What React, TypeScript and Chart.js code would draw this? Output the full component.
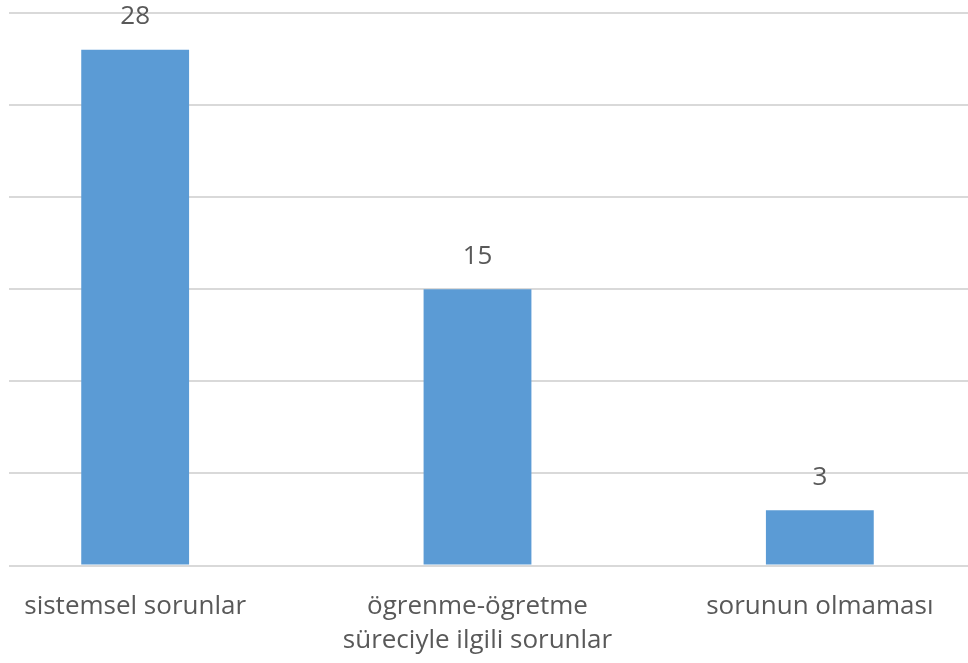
import React, { useEffect, useRef } from "react";
import { Chart, registerables } from "chart.js";

Chart.register(...registerables);

const categories: (string | string[])[] = [
  "sistemsel sorunlar",
  ["ögrenme-ögretme", "süreciyle ilgili sorunlar"],
  "sorunun olmaması",
];
const values: number[] = [28, 15, 3];
const yMin = 0;
const yMax = 30;
const yStep = 5;

const TEXT = "#595959";
const FONT = "'Open Sans', sans-serif";

const valueLabels = {
  id: "valueLabels",
  afterDatasetsDraw(chart: any) {
    const ctx = chart.ctx;
    const meta = chart.getDatasetMeta(0);
    ctx.save();
    ctx.fillStyle = TEXT;
    ctx.font = `26px ${FONT}`;
    ctx.textAlign = "center";
    ctx.textBaseline = "middle";
    meta.data.forEach((bar: any, i: number) => {
      ctx.fillText(String(values[i]), bar.x, bar.y - 33);
    });
    ctx.restore();
  },
};

export default function App() {
  const ref = useRef<HTMLCanvasElement>(null);
  useEffect(() => {
    if (!ref.current) return;
    const chart = new Chart(ref.current, {
      type: "bar",
      data: {
        labels: categories,
        datasets: [
          {
            data: values,
            backgroundColor: "#5b9bd5",
            borderWidth: 0,
            barPercentage: 0.315,
            categoryPercentage: 1,
          },
        ],
      },
      options: {
        responsive: false,
        animation: false,
        layout: { padding: { top: 13, left: 0, right: 0, bottom: 0 } },
        plugins: { legend: { display: false }, tooltip: { enabled: false } },
        scales: {
          x: {
            grid: { display: false, drawTicks: false },
            border: { display: false },
            ticks: {
              color: TEXT,
              font: { family: FONT, size: 26, lineHeight: 1.3 },
              padding: 24,
              maxRotation: 0,
              autoSkip: false,
            },
            afterFit: (s: any) => {
              s.height = 97.5;
            },
          },
          y: {
            min: yMin,
            max: yMax,
            ticks: { display: false, stepSize: yStep },
            grid: { color: "#d9d9d9", lineWidth: 2, drawTicks: false },
            border: { display: false },
          },
        },
      },
      plugins: [valueLabels],
    });
    return () => chart.destroy();
  }, []);

  return (
    <div
      style={{
        position: "fixed",
        left: 0,
        top: 0,
        width: 968,
        height: 663,
        background: "#fff",
        overflow: "hidden",
      }}
    >
      <div
        style={{
          position: "absolute",
          left: 9,
          top: 0,
          width: 959,
          height: 663,
          overflow: "hidden",
        }}
      >
        <canvas
          ref={ref}
          width={1027}
          height={663}
          style={{ position: "absolute", left: -44.6, top: 0 }}
        />
      </div>
    </div>
  );
}
